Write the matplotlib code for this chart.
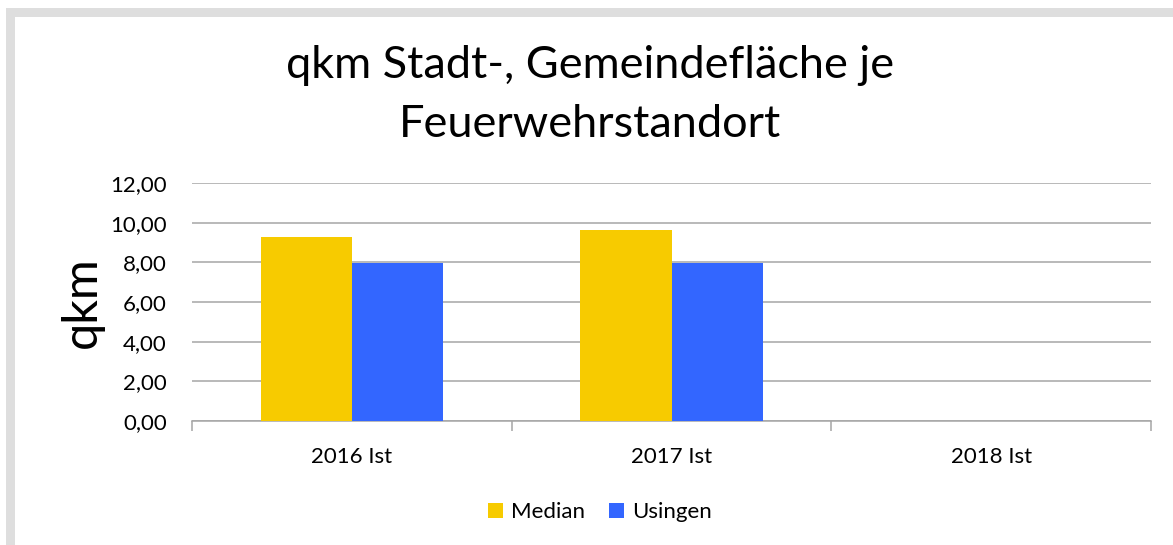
import numpy as np
import matplotlib.pyplot as plt
from matplotlib.patches import Rectangle

# ---------------- DATA ----------------
categories = ["2016 Ist", "2017 Ist", "2018 Ist"]
median = [9.28, 9.62, np.nan]
usingen = [7.97, 7.97, np.nan]
y_ticks = [0, 2, 4, 6, 8, 10, 12]
y_tick_labels = ["0,00", "2,00", "4,00", "6,00", "8,00", "10,00", "12,00"]
# --------------------------------------

plt.rcParams["font.family"] = ["Lato", "DejaVu Sans"]

W, H = 1173, 545
fig = plt.figure(figsize=(W / 100, H / 100), dpi=100)
fig.patch.set_facecolor("white")

# grey chart frame (left and top edges only visible)
fig.patches.append(Rectangle((6 / W, 0), 1, 1 - 8 / H, transform=fig.transFigure,
                             facecolor="#dedede", edgecolor="none", zorder=-10))
fig.patches.append(Rectangle((15 / W, 0), 1, 1 - 17 / H, transform=fig.transFigure,
                             facecolor="white", edgecolor="none", zorder=-9))

ax = fig.add_axes([192 / W, 1 - 421 / H, (1151 - 192) / W, (421 - 183) / H])
ax.set_facecolor("none")
ax.set_zorder(5)

x = np.arange(len(categories))
w = 0.285
ax.bar(x - w / 2, median, width=w, color="#f7cb00", label="Median", zorder=3)
ax.bar(x + w / 2, usingen, width=w, color="#3366ff", label="Usingen", zorder=3)

ax.set_xlim(-0.5, len(categories) - 0.5)
ax.set_ylim(0, 12)
ax.set_yticks(y_ticks)
ax.set_yticklabels(y_tick_labels)
ax.yaxis.grid(True, color="#a6a6a6", linewidth=1.1, zorder=0)
ax.set_axisbelow(True)

ax.set_xticks(x)
ax.set_xticklabels(categories)
ax.set_xticks(np.arange(len(categories) + 1) - 0.5, minor=True)
ax.tick_params(axis="x", which="major", length=0, pad=19, labelsize=16)
ax.tick_params(axis="x", which="minor", length=7, color="#a6a6a6", width=1.1)
ax.tick_params(axis="y", length=0, pad=18, labelsize=16)

for s in ["left", "top", "right"]:
    ax.spines[s].set_visible(False)
ax.spines["bottom"].set_color("#a6a6a6")
ax.spines["bottom"].set_linewidth(1.1)

ax.set_ylabel("qkm", fontsize=35, labelpad=5)

fig.text(590 / W, 1 - 95 / H, "qkm Stadt-, Gemeindefläche je\nFeuerwehrstandort",
         ha="center", va="center", fontsize=32.5, linespacing=1.55, zorder=6)

leg = ax.legend(loc="center", bbox_to_anchor=(600 / W, 1 - 512 / H),
                bbox_transform=fig.transFigure, ncol=2, frameon=False,
                fontsize=16, handlelength=0.68, handleheight=0.68,
                handletextpad=0.35, columnspacing=1.1)

fig.savefig("out.png", dpi=100)
